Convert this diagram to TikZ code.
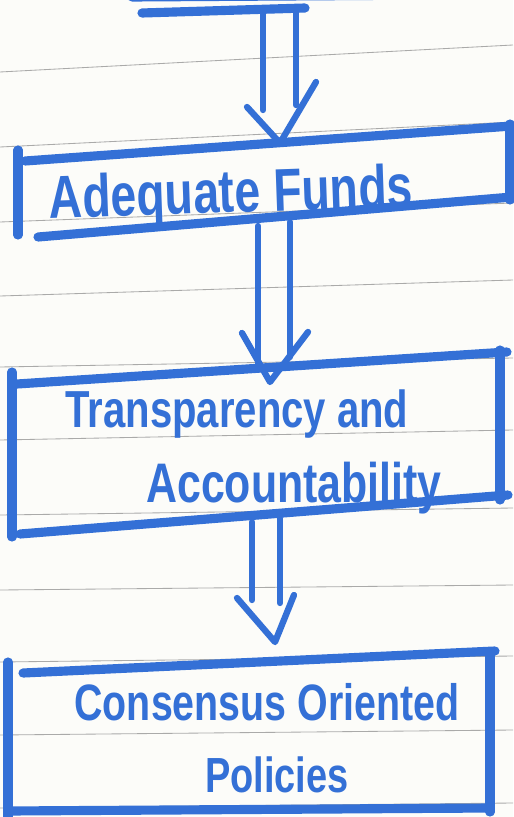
\documentclass[tikz,border=0pt]{standalone}
\usepackage{fontspec}
\setmainfont{Liberation Sans}
\usetikzlibrary{calc}
\definecolor{penblue}{RGB}{52,112,214}
\definecolor{ruleline}{RGB}{150,150,150}
\definecolor{paper}{RGB}{252,252,249}
\begin{document}
\begin{tikzpicture}[x=0.05cm,y=-0.05cm,
  boxpen/.style={draw=penblue,line width=13pt,line cap=round,line join=round},
  arrowpen/.style={draw=penblue,line width=9pt,line cap=round,line join=round},
  rulestyle/.style={draw=ruleline,line width=1.2pt,opacity=0.8},
  label/.style={text=penblue,font=\bfseries,inner sep=0pt,anchor=center}]
\useasboundingbox (0,0) rectangle (513,817);
\fill[paper] (0,0) rectangle (513,817);
% ruled paper lines
\foreach \a/\b in {72/45,147/122,222/203,296/280,367/358,440/430,515/508,590/585,662/656,735/730,808/803}
  \draw[rulestyle] (0,\a) -- (513,\b);

% remnant of the box above
\draw[boxpen] (132,-3) -- (440,-5);
\draw[boxpen] (142,13) -- (305,8);

% box 1: Adequate Funds
\draw[boxpen] (18,150) -- (18,235);
\draw[boxpen] (25,161) -- (512,126);
\draw[boxpen] (510,124) -- (510,200);
\draw[boxpen] (38,237) -- (512,197);
\node[label,rotate=2] (funds) at (231,197)
  {\scalebox{1}[1.3]{\fontsize{66}{70}\selectfont Adequate Funds}};

% box 2: Transparency and Accountability
\draw[boxpen] (12,372) -- (12,537);
\draw[boxpen] (17,384) -- (507,352);
\draw[boxpen] (500,350) -- (500,500);
\draw[boxpen] (20,534) -- (508,495);
\node[label] (transp) at (237,414)
  {\scalebox{1}[1.3]{\fontsize{57}{60}\selectfont Transparency and}};
\node[label] (account) at (294,488)
  {\scalebox{1}[1.3]{\fontsize{61}{64}\selectfont Accountability}};

% box 3: Consensus Oriented Policies
\draw[boxpen] (8,662) -- (8,820);
\draw[boxpen] (23,673) -- (495,651);
\draw[boxpen] (490,652) -- (490,812);
\draw[boxpen] (8,811) -- (490,808);
\node[label] (consensus) at (267,702)
  {\scalebox{1}[1.3]{\fontsize{56}{60}\selectfont Consensus Oriented}};
\node[label] (policies) at (277,775)
  {\scalebox{1}[1.3]{\fontsize{54}{58}\selectfont Policies}};

% arrow 1
\coordinate (a1ls) at (263,13); \coordinate (a1le) at (263,110);
\coordinate (a1rs) at (296,10); \coordinate (a1re) at (296,105);
\coordinate (a1wl) at (247,107); \coordinate (a1tip) at (280,143); \coordinate (a1wr) at (316,82);
\draw[arrowpen] (a1ls) -- (a1le);
\draw[arrowpen] (a1rs) -- (a1re);
\draw[arrowpen] (a1wl) -- (a1tip) -- (a1wr);

% arrow 2
\coordinate (a2ls) at (258,226); \coordinate (a2le) at (258,367);
\coordinate (a2rs) at (290,222); \coordinate (a2re) at (290,357);
\coordinate (a2wl) at (242,333); \coordinate (a2tip) at (270,382); \coordinate (a2wr) at (308,332);
\draw[arrowpen] (a2ls) -- (a2le);
\draw[arrowpen] (a2rs) -- (a2re);
\draw[arrowpen] (a2wl) -- (a2tip) -- (a2wr);

% arrow 3
\coordinate (a3ls) at (252,522); \coordinate (a3le) at (252,600);
\coordinate (a3rs) at (280,518); \coordinate (a3re) at (280,603);
\coordinate (a3wl) at (237,598); \coordinate (a3tip) at (275,642); \coordinate (a3wr) at (294,595);
\draw[arrowpen] (a3ls) -- (a3le);
\draw[arrowpen] (a3rs) -- (a3re);
\draw[arrowpen] (a3wl) -- (a3tip) -- (a3wr);
\end{tikzpicture}
\end{document}
